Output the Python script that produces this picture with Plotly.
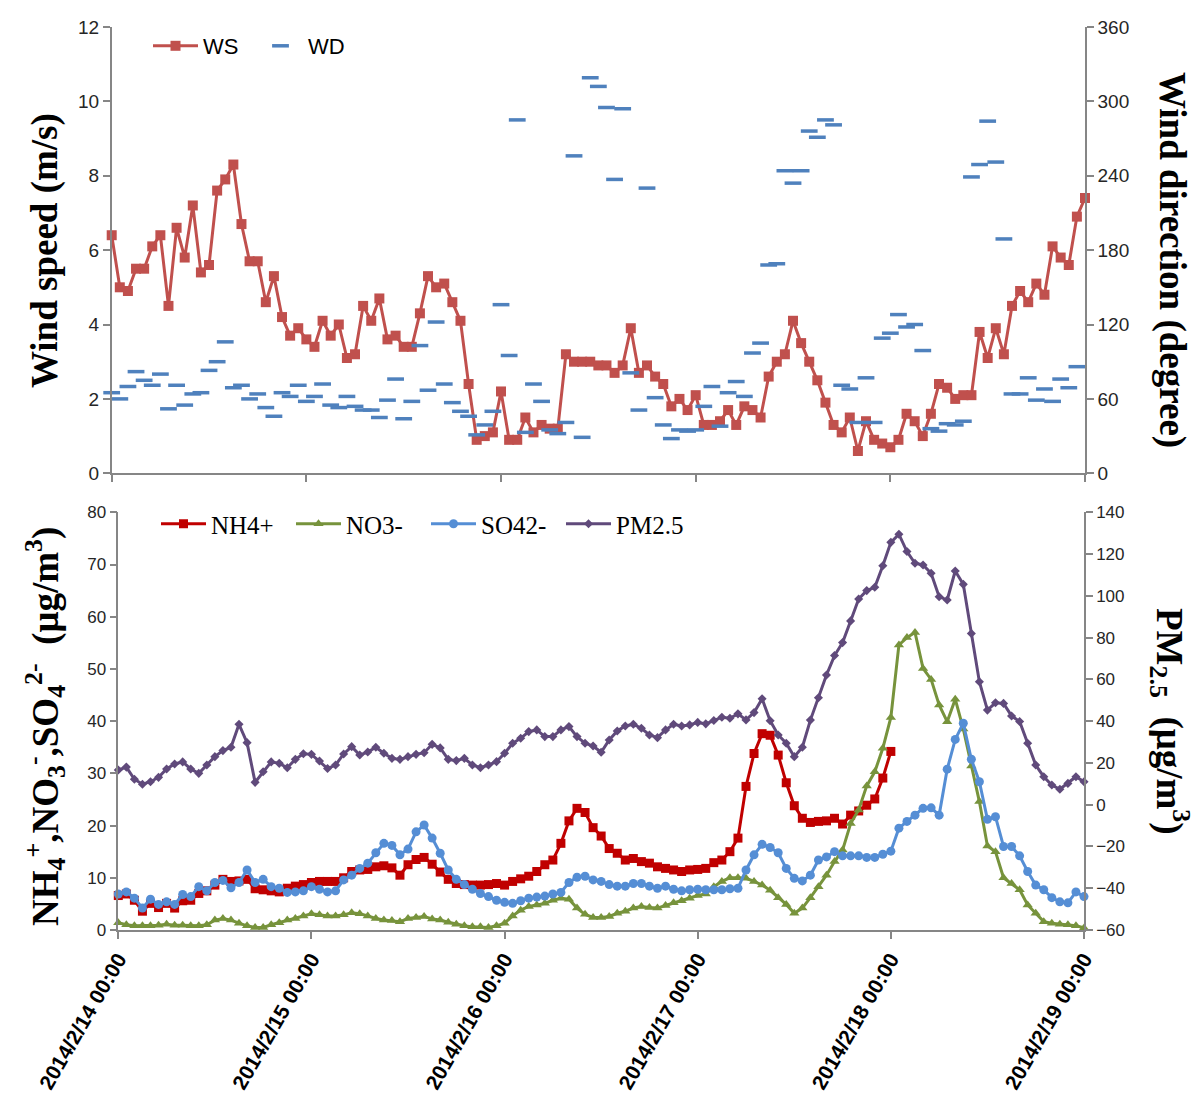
import pandas as pd
import plotly.graph_objects as go

# Hourly timestamps, 2014-02-14 00:00 to 2014-02-19 00:00
times = pd.date_range("2014-02-14 00:00", "2014-02-19 00:00", freq="h")

# Wind speed (m/s)
ws = [6.4, 5.0, 4.9, 5.5, 5.5, 6.1, 6.4, 4.5, 6.6, 5.8, 7.2, 5.4, 5.6, 7.6, 7.9, 8.3, 6.7, 5.7, 5.7, 4.6,
      5.3, 4.2, 3.7, 3.9, 3.6, 3.4, 4.1, 3.7, 4.0, 3.1, 3.2, 4.5, 4.1, 4.7, 3.6, 3.7, 3.4, 3.4, 4.3, 5.3,
      5.0, 5.1, 4.6, 4.1, 2.4, 0.9, 1.0, 1.1, 2.2, 0.9, 0.9, 1.5, 1.1, 1.3, 1.2, 1.2, 3.2, 3.0, 3.0, 3.0,
      2.9, 2.9, 2.7, 2.9, 3.9, 2.7, 2.9, 2.6, 2.4, 1.8, 2.0, 1.7, 2.1, 1.3, 1.3, 1.4, 1.7, 1.3, 1.8, 1.7,
      1.5, 2.6, 3.0, 3.2, 4.1, 3.5, 3.0, 2.5, 1.9, 1.3, 1.1, 1.5, 0.6, 1.4, 0.9, 0.8, 0.7, 0.9, 1.6, 1.4,
      1.0, 1.6, 2.4, 2.3, 2.0, 2.1, 2.1, 3.8, 3.1, 3.9, 3.2, 4.5, 4.9, 4.6, 5.1, 4.8, 6.1, 5.8, 5.6, 6.9,
      7.4]

# Wind direction (degree)
wd = [65, 60, 70, 82, 75, 71, 80, 52, 71, 55, 64, 65, 83, 90, 106, 69, 71, 60, 64, 53,
      46, 65, 62, 71, 58, 62, 72, 55, 53, 62, 54, 51, 51, 45, 59, 76, 44, 58, 103, 67,
      122, 72, 57, 50, 46, 31, 39, 50, 136, 95, 285, 33, 72, 58, 35, 32, 41, 256, 29, 319,
      312, 295, 237, 294, 81, 51, 230, 61, 39, 28, 35, 34, 35, 54, 70, 38, 65, 74, 62, 97,
      105, 168, 169, 244, 234, 244, 276, 271, 285, 281, 71, 68, 41, 77, 41, 109, 113, 128, 118, 120,
      99, 36, 34, 40, 39, 42, 239, 249, 284, 251, 189, 64, 64, 77, 59, 68, 58, 76, 69, 86,
      None]

# NH4+ (ug/m3), record ends at 2014/2/18 00:00
nh4 = [6.6, 6.9, 5.7, 3.6, 5.1, 4.3, 5.1, 4.2, 5.6, 5.7, 7.0, 7.5, 8.6, 9.7, 9.3, 9.4, 9.7, 7.9, 7.7, 7.5,
       7.3, 8.0, 8.4, 8.7, 9.1, 9.3, 9.3, 9.3, 10.0, 11.2, 11.5, 11.6, 12.1, 12.3, 11.9, 10.5, 12.5, 13.5, 13.9, 12.6,
       11.1, 9.7, 8.9, 8.7, 8.6, 8.6, 8.7, 8.9, 8.6, 9.3, 9.8, 10.3, 11.2, 12.5, 13.4, 16.6, 20.9, 23.3, 22.5, 19.6,
       18.0, 15.6, 14.7, 13.4, 13.7, 13.1, 12.8, 12.1, 11.8, 11.5, 11.2, 11.5, 11.6, 11.8, 12.9, 13.4, 15.0, 17.6, 27.5, 33.8,
       37.6, 37.3, 33.5, 28.2, 23.8, 21.4, 20.6, 20.8, 20.9, 21.4, 20.3, 22.0, 22.8, 23.9, 25.1, 29.1, 34.2] + [None] * 24

# NO3- (ug/m3)
no3 = [1.4, 1.0, 0.8, 0.8, 0.8, 0.9, 1.1, 0.9, 0.9, 0.8, 0.8, 1.0, 1.9, 2.2, 1.9, 1.3, 0.8, 0.5, 0.5, 1.0,
       1.4, 1.9, 2.2, 2.7, 3.1, 2.9, 2.7, 2.7, 2.9, 3.3, 3.1, 2.7, 2.2, 1.9, 1.8, 1.6, 2.2, 2.4, 2.6, 2.1,
       1.9, 1.5, 1.1, 0.8, 0.6, 0.6, 0.5, 0.8, 1.3, 2.7, 3.8, 4.5, 4.8, 5.1, 5.7, 6.1, 5.9, 4.2, 3.0, 2.4,
       2.4, 2.6, 3.2, 3.6, 4.2, 4.5, 4.3, 4.2, 4.7, 5.2, 5.6, 6.1, 6.6, 6.9, 8.3, 9.3, 10.0, 10.0, 9.9, 9.3,
       8.6, 7.6, 6.2, 4.9, 3.2, 4.2, 6.2, 8.3, 10.5, 13.1, 15.3, 20.4, 23.0, 27.6, 30.3, 34.8, 40.7, 54.6, 56.0, 57.0,
       50.1, 48.0, 43.1, 39.9, 44.2, 38.5, 31.4, 24.6, 16.1, 15.0, 10.0, 8.9, 7.7, 4.8, 3.2, 1.6, 1.3, 1.1, 1.0, 0.8,
       0.4]

# SO42- (ug/m3)
so4 = [6.9, 7.3, 6.1, 4.2, 5.9, 4.9, 5.4, 4.9, 6.8, 6.4, 8.3, 7.5, 9.1, 9.5, 8.1, 9.1, 11.5, 9.1, 9.7, 8.3,
       8.0, 7.2, 7.3, 7.5, 8.3, 7.8, 7.3, 7.5, 9.6, 10.5, 11.8, 12.8, 14.8, 16.6, 16.2, 14.4, 15.5, 18.8, 20.1, 17.6,
       14.7, 11.5, 9.7, 8.7, 7.8, 7.0, 6.4, 5.7, 5.3, 5.1, 5.6, 6.1, 6.3, 6.5, 6.9, 7.2, 9.1, 10.1, 10.3, 9.6,
       9.3, 8.7, 8.4, 8.4, 8.9, 8.9, 8.4, 8.0, 8.4, 7.8, 7.5, 7.7, 7.8, 7.7, 7.7, 7.7, 7.9, 8.0, 11.5, 14.4,
       16.4, 15.8, 14.8, 11.8, 9.9, 9.4, 10.5, 13.4, 14.0, 15.0, 14.2, 14.2, 14.2, 13.9, 13.9, 14.5, 15.1, 19.5, 20.8, 22.0,
       23.3, 23.4, 22.0, 30.8, 36.5, 39.6, 32.7, 28.4, 21.2, 21.7, 16.0, 16.0, 14.2, 11.2, 8.6, 7.7, 6.2, 5.4, 5.2, 7.3,
       6.4]

# PM2.5 (ug/m3)
pm25 = [16.6, 18.0, 12.2, 9.8, 11.0, 13.1, 17.1, 19.5, 20.5, 17.1, 15.0, 19.0, 23.0, 25.9, 27.5, 38.5, 29.7, 10.7, 15.8, 20.5,
        19.8, 17.7, 21.7, 24.4, 24.1, 20.9, 17.3, 19.0, 24.3, 27.8, 23.8, 25.2, 27.5, 24.6, 22.2, 21.7, 23.0, 24.1, 24.9, 28.9,
        27.2, 21.7, 21.1, 22.2, 19.0, 17.7, 19.0, 20.6, 24.6, 29.4, 31.8, 35.0, 35.8, 32.6, 32.6, 35.8, 37.4, 32.6, 29.4, 28.1,
        25.1, 31.0, 35.3, 37.7, 38.5, 36.6, 33.4, 32.1, 35.8, 38.5, 37.7, 38.2, 39.4, 38.7, 40.3, 41.9, 41.4, 43.5, 40.6, 44.1,
        50.7, 40.2, 33.4, 29.4, 23.0, 27.5, 40.5, 51.2, 62.1, 71.4, 77.6, 88.0, 98.5, 102.5, 104.1, 114.4, 125.6, 129.5, 121.2, 115.6,
        114.8, 110.8, 99.6, 98.0, 111.9, 105.5, 82.0, 58.9, 45.3, 48.8, 48.5, 42.5, 39.8, 29.4, 19.0, 13.4, 9.4, 7.4, 10.2, 13.4,
        11.0]

day_ticks = pd.date_range("2014-02-14", "2014-02-19", freq="D")
day_labels = [f"{d.year}/{d.month}/{d.day} 00:00" for d in day_ticks]

W, H = 1197, 1100
AX = "#868686"
TXT = "#262626"
SANS = "Liberation Sans"
SERIF = "Liberation Serif"


def px_x(v):
    return v / W


def px_y(v):
    return 1 - v / H


fig = go.Figure()

# Upper panel: wind speed and wind direction
fig.add_trace(go.Scatter(
    x=times, y=ws, name="WS", mode="lines+markers", xaxis="x", yaxis="y",
    line=dict(color="#C0504D", width=3),
    marker=dict(symbol="square", size=10, color="#C0504D"),
    cliponaxis=False, legend="legend"))
fig.add_trace(go.Scatter(
    x=times, y=wd, name="WD", mode="markers", xaxis="x", yaxis="y2",
    marker=dict(symbol="line-ew", size=12, color="#4F81BD",
                line=dict(color="#4F81BD", width=3.5)),
    cliponaxis=False, legend="legend"))

# Lower panel: ions and PM2.5
fig.add_trace(go.Scatter(
    x=times, y=nh4, name="NH4+", mode="lines+markers", xaxis="x2", yaxis="y3",
    line=dict(color="#C00000", width=3),
    marker=dict(symbol="square", size=9, color="#C00000"),
    cliponaxis=False, legend="legend2"))
fig.add_trace(go.Scatter(
    x=times, y=no3, name="NO3-", mode="lines+markers", xaxis="x2", yaxis="y3",
    line=dict(color="#77933C", width=3),
    marker=dict(symbol="triangle-up", size=9, color="#77933C"),
    cliponaxis=False, legend="legend2"))
fig.add_trace(go.Scatter(
    x=times, y=so4, name="SO42-", mode="lines+markers", xaxis="x2", yaxis="y3",
    line=dict(color="#558ED5", width=3),
    marker=dict(symbol="circle", size=9, color="#558ED5"),
    cliponaxis=False, legend="legend2"))
fig.add_trace(go.Scatter(
    x=times, y=pm25, name="PM2.5", mode="lines+markers", xaxis="x2", yaxis="y4",
    line=dict(color="#604A7B", width=3),
    marker=dict(symbol="diamond", size=7, color="#604A7B"),
    cliponaxis=False, legend="legend2"))

x_range = [times[0], times[-1]]
common_axis = dict(showline=True, linecolor=AX, linewidth=1.5, ticks="outside",
                   tickcolor=AX, ticklen=7, tickwidth=1.5, showgrid=False,
                   zeroline=False, automargin=False)

fig.update_layout(
    width=W, height=H, autosize=False,
    margin=dict(l=0, r=0, t=0, b=0),
    template="none",
    paper_bgcolor="white", plot_bgcolor="rgba(0,0,0,0)",
    font=dict(family=SANS, color=TXT),
    xaxis=dict(domain=[px_x(111.7), px_x(1085)], anchor="y", type="date",
               range=x_range, tickvals=day_ticks, showticklabels=False,
               **common_axis),
    yaxis=dict(domain=[px_y(473.3), px_y(26.9)], anchor="x", range=[0, 12],
               dtick=2, tick0=0, tickfont=dict(size=19, family=SANS, color=TXT),
               **common_axis),
    yaxis2=dict(overlaying="y", anchor="x", side="right", range=[0, 360],
                dtick=60, tick0=0, tickfont=dict(size=19, family=SANS, color=TXT),
                **common_axis),
    xaxis2=dict(domain=[px_x(118.3), px_x(1084)], anchor="y3", type="date",
                range=x_range, tickvals=day_ticks, ticktext=day_labels,
                tickangle=-60,
                tickfont=dict(size=21, family=SANS, color="#000000", weight="bold"),
                **common_axis),
    yaxis3=dict(domain=[px_y(930), px_y(512.3)], anchor="x2", range=[0, 80],
                dtick=10, tick0=0, tickfont=dict(size=17, family=SANS, color=TXT),
                **common_axis),
    yaxis4=dict(overlaying="y3", anchor="x2", side="right", range=[-60, 140],
                dtick=20, tick0=-60, tickfont=dict(size=17, family=SANS, color=TXT),
                **common_axis),
    legend=dict(orientation="h", x=px_x(148), y=px_y(46), xanchor="left",
                yanchor="middle", bgcolor="rgba(0,0,0,0)",
                font=dict(size=22, family=SANS, color="#000000"),
                entrywidth=45, entrywidthmode="pixels", itemwidth=45),
    legend2=dict(orientation="h", x=px_x(156), y=px_y(524), xanchor="left",
                 yanchor="middle", bgcolor="rgba(0,0,0,0)",
                 font=dict(size=25, family=SERIF, color="#000000"),
                 entrywidth=75, entrywidthmode="pixels", itemwidth=45),
    showlegend=True,
)

title_font = dict(family=SERIF, size=37, color="#000000")
fig.add_annotation(text="<b>Wind speed (m/s)</b>", xref="paper", yref="paper",
                   x=px_x(45), y=px_y(251), textangle=-90, showarrow=False,
                   font=title_font, xanchor="center", yanchor="middle")
fig.add_annotation(text="<b>Wind direction (degree)</b>", xref="paper", yref="paper",
                   x=px_x(1172), y=px_y(260), textangle=90, showarrow=False,
                   font=title_font, xanchor="center", yanchor="middle")
fig.add_annotation(
    text="<b>NH<sub>4</sub><sup>+</sup>,NO<sub>3</sub><sup>-</sup>,SO<sub>4</sub><sup>2-</sup>  (μg/m<sup>3</sup>)</b>",
    xref="paper", yref="paper", x=px_x(45), y=px_y(727), textangle=-90,
    showarrow=False, font=title_font, xanchor="center", yanchor="middle")
fig.add_annotation(text="<b>PM<sub>2.5</sub>  (μg/m<sup>3</sup>)</b>", xref="paper", yref="paper",
                   x=px_x(1170), y=px_y(721), textangle=90, showarrow=False,
                   font=title_font, xanchor="center", yanchor="middle")

fig.write_html("out.html")
